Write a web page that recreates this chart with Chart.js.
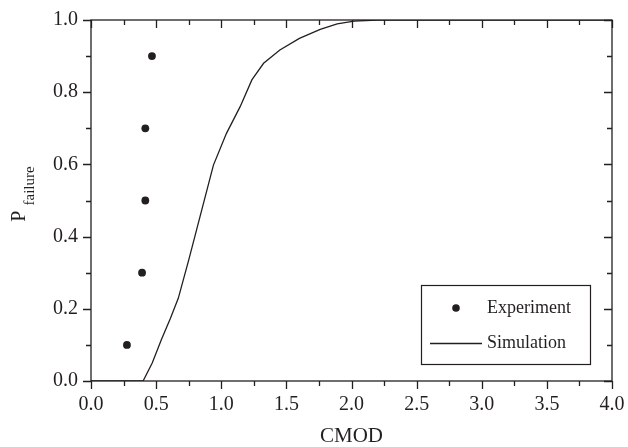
<!DOCTYPE html>
<html>
<head>
<meta charset="utf-8">
<script src="https://cdn.jsdelivr.net/npm/chart.js@4/dist/chart.umd.min.js"></script>
<style>
  html, body { margin: 0; padding: 0; background: #fff; }
  #wrap { width: 628px; height: 447px; position: relative; }
</style>
</head>
<body>
<div id="wrap"><canvas id="c" width="628" height="447"></canvas></div>
<script>
// ---- data ----
const expX = [0.276, 0.392, 0.417, 0.417, 0.468];
const expY = [0.1, 0.3, 0.5, 0.7, 0.9];

const simX = [0, 0.40, 0.47, 0.54, 0.61, 0.67, 0.75, 0.81, 0.87, 0.94, 1.04, 1.145, 1.235, 1.325, 1.45, 1.6, 1.76, 1.89, 2.02, 2.2, 4.0];
const simY = [0, 0, 0.05, 0.114, 0.174, 0.229, 0.335, 0.418, 0.501, 0.598, 0.686, 0.76, 0.834, 0.88, 0.917, 0.949, 0.974, 0.989, 0.997, 1.0, 1.0];

const xTickLabels = ['0.0', '0.5', '1.0', '1.5', '2.0', '2.5', '3.0', '3.5', '4.0'];
const yTickLabels = ['0.0', '0.2', '0.4', '0.6', '0.8', '1.0'];
const seriesNames = ['Experiment', 'Simulation'];
const xTitle = 'CMOD';
const yTitleMain = 'P';
const yTitleSub = 'failure';

const INK = '#231f20';
const SERIF = '"Liberation Serif", "Times New Roman", serif';

const framePlugin = {
  id: 'frame',
  afterDraw(chart) {
    const ctx = chart.ctx;
    const a = chart.chartArea;
    const xs = chart.scales.x, ys = chart.scales.y;
    ctx.save();
    ctx.strokeStyle = INK;
    ctx.lineWidth = 1.3;
    ctx.strokeRect(a.left, a.top, a.right - a.left, a.bottom - a.top);
    ctx.beginPath();
    // x ticks every 0.25 (major 0.5)
    for (let i = 0; i <= 16; i++) {
      const v = i * 0.25;
      const px = Math.round(xs.getPixelForValue(v)) + 0.5;
      const len = (i % 2 === 0) ? 8 : 5;
      ctx.moveTo(px, a.bottom); ctx.lineTo(px, a.bottom + len);
      ctx.moveTo(px, a.top); ctx.lineTo(px, a.top + len);
    }
    // y ticks every 0.1 (major 0.2)
    for (let i = 0; i <= 10; i++) {
      const v = i * 0.1;
      const py = Math.round(ys.getPixelForValue(v)) + 0.5;
      const len = (i % 2 === 0) ? 8 : 5;
      ctx.moveTo(a.left, py); ctx.lineTo(a.left - len, py);
      ctx.moveTo(a.right, py); ctx.lineTo(a.right - len, py);
    }
    ctx.stroke();

    // y axis title with subscript
    ctx.fillStyle = INK;
    ctx.translate(25, 194);
    ctx.rotate(-Math.PI / 2);
    ctx.textBaseline = 'alphabetic';
    ctx.font = '20px ' + SERIF;
    const wP = ctx.measureText(yTitleMain + ' ').width;
    ctx.font = '15px ' + SERIF;
    const wS = ctx.measureText(yTitleSub).width;
    const start = -(wP + wS) / 2;
    ctx.font = '20px ' + SERIF;
    ctx.fillText(yTitleMain, start, 0);
    ctx.font = '15px ' + SERIF;
    ctx.fillText(yTitleSub, start + wP, 9);
    ctx.restore();

    // legend
    ctx.save();
    const lx = 421, ly = 285, lw = 169, lh = 79;
    ctx.fillStyle = '#fff';
    ctx.fillRect(lx, ly, lw, lh);
    ctx.strokeStyle = INK;
    ctx.lineWidth = 1.2;
    ctx.strokeRect(lx + 0.5, ly + 0.5, lw, lh);
    ctx.fillStyle = INK;
    ctx.beginPath();
    ctx.arc(456, 308, 3.8, 0, Math.PI * 2);
    ctx.fill();
    ctx.beginPath();
    ctx.lineWidth = 1.3;
    ctx.moveTo(430, 343.5); ctx.lineTo(482, 343.5);
    ctx.stroke();
    ctx.font = '18px ' + SERIF;
    ctx.textBaseline = 'middle';
    ctx.textAlign = 'left';
    ctx.fillText(seriesNames[0], 487, 308);
    ctx.fillText(seriesNames[1], 487, 343);
    ctx.restore();
  }
};

new Chart(document.getElementById('c'), {
  type: 'scatter',
  data: {
    datasets: [
      {
        label: seriesNames[0],
        data: expX.map((x, i) => ({ x: x, y: expY[i] })),
        showLine: false,
        pointRadius: 3.9,
        pointBackgroundColor: INK,
        pointBorderWidth: 0,
        pointBorderColor: INK
      },
      {
        label: seriesNames[1],
        data: simX.map((x, i) => ({ x: x, y: simY[i] })),
        showLine: true,
        pointRadius: 0,
        borderColor: INK,
        borderWidth: 1.3,
        tension: 0,
        fill: false
      }
    ]
  },
  options: {
    responsive: false,
    animation: false,
    events: [],
    layout: { padding: { top: 20, right: 16, left: 0, bottom: 0 } },
    plugins: {
      legend: { display: false },
      tooltip: { enabled: false }
    },
    scales: {
      x: {
        type: 'linear',
        min: 0, max: 4,
        grid: { display: false, drawTicks: false },
        border: { display: false },
        ticks: {
          stepSize: 0.5,
          padding: 12,
          color: INK,
          font: { family: SERIF, size: 20 },
          callback: (v, i) => xTickLabels[i]
        },
        title: {
          display: true,
          text: xTitle,
          color: INK,
          font: { family: SERIF, size: 21, lineHeight: 1 },
          padding: { top: 0, bottom: 0 }
        },
        afterFit: (s) => { s.height = 66; s.paddingLeft = 0; s.paddingRight = 0; }
      },
      y: {
        type: 'linear',
        min: 0, max: 1,
        grid: { display: false, drawTicks: false },
        border: { display: false },
        ticks: {
          stepSize: 0.2,
          padding: 13,
          color: INK,
          font: { family: SERIF, size: 20 },
          callback: (v, i) => yTickLabels[i]
        },
        afterFit: (s) => { s.width = 91; s.paddingTop = 0; s.paddingBottom = 0; }
      }
    }
  },
  plugins: [framePlugin]
});
</script>
</body>
</html>
